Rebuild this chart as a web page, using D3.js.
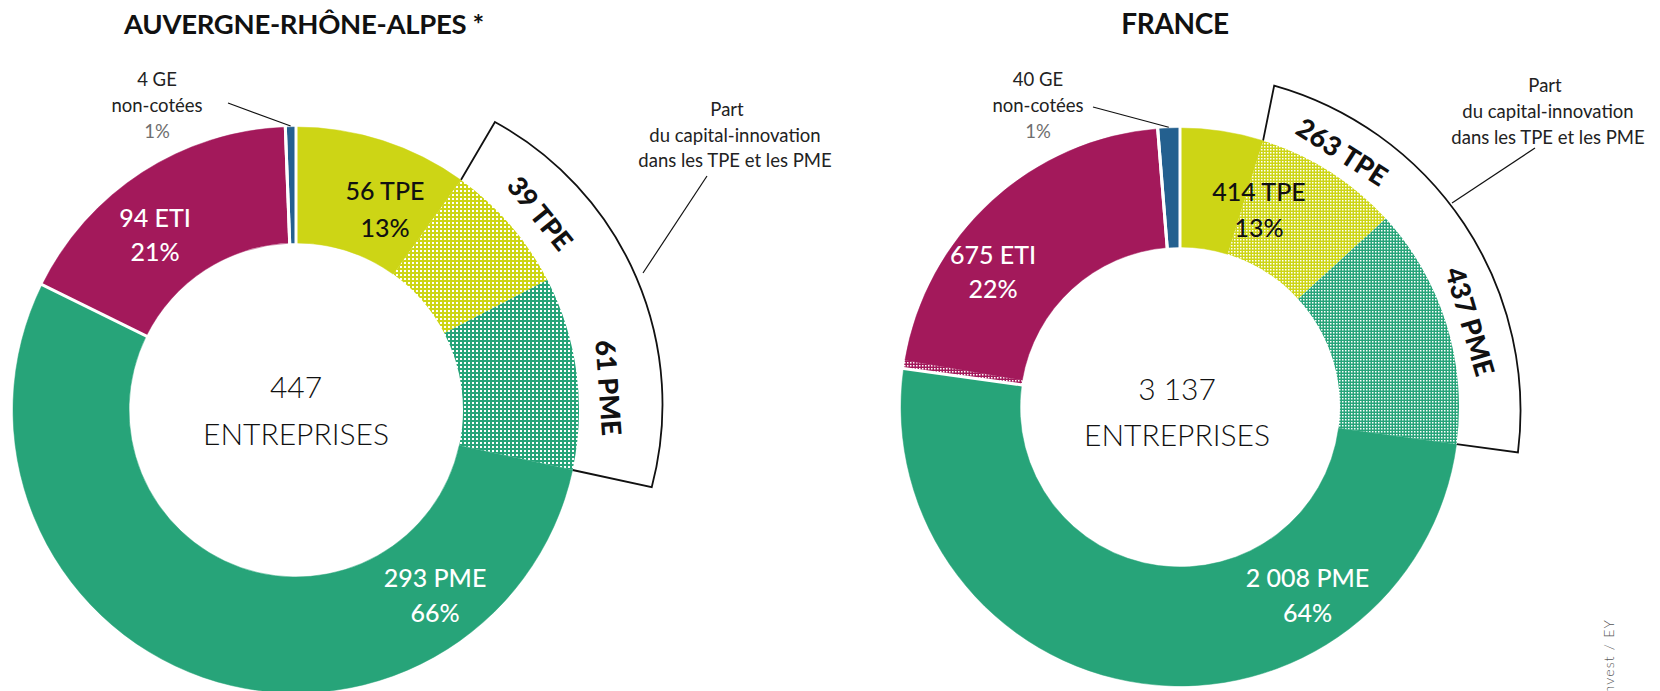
<!DOCTYPE html>
<html><head><meta charset="utf-8">
<script src="https://cdn.jsdelivr.net/npm/d3@7"></script>
<style>
html,body{margin:0;padding:0;background:#fff;}
svg{display:block;}
text{font-family:Lato,"Open Sans",sans-serif;}
</style></head><body>
<svg id="chart" width="1660" height="691"></svg>
<script>
// ---------- DATA ----------
// ring segments, clockwise from 12 o'clock ("-CI" = part financed by capital-innovation, dotted)
const segmentKeys   = ["TPE", "TPE-CI", "PME-CI", "PME", "ETI-CI", "ETI", "GE"];
const segmentGroup  = ["TPE", "TPE", "PME", "PME", "ETI", "ETI", "GE"];
const segmentDotted = [false, true, true, false, true, false, false];

const categories   = ["TPE", "PME", "ETI", "GE"];

// Auvergne-Rhône-Alpes
const araTitle  = "AUVERGNE-RHÔNE-ALPES *";
const araTotal  = 447;
const araCounts = [56, 293, 94, 4];            // TPE, PME, ETI, GE
const araShares = ["13%", "66%", "21%", "1%"];
const araCapitalInnovation = [39, 61];         // TPE, PME
// slice sizes as drawn in the reference, in % of the ring (the drawing does not follow the labelled counts)
const araArcShares = [9.9, 7.5, 11.0, 53.9, 0, 17.1, 0.6];

// France
const frTitle  = "FRANCE";
const frTotal  = 3137;
const frCounts = [414, 2008, 675, 40];         // TPE, PME, ETI, GE
const frShares = ["13%", "64%", "22%", "1%"];
const frCapitalInnovation = [263, 437];        // TPE, PME
const frEtiCapitalInnovation = 15;             // thin unlabelled dotted sliver of ETI (estimated)
const frArcValues = [
  frCounts[0] - frCapitalInnovation[0], frCapitalInnovation[0],
  frCapitalInnovation[1], frCounts[1] - frCapitalInnovation[1],
  frEtiCapitalInnovation, frCounts[2] - frEtiCapitalInnovation,
  frCounts[3]
];

const calloutTitle = ["Part", "du capital-innovation", "dans les TPE et les PME"];
const sourceText = "Source : France Invest / EY";

// ---------- STYLE ----------
const color = d3.scaleOrdinal().domain(categories).range(["#cdd515", "#27a479", "#a3195b", "#24608f"]);
const fmt = d3.formatLocale({decimal: ",", thousands: "\u00a0", grouping: [3], currency: ["", "€"]}).format(",d");

const layouts = [
  {id: "ara", title: araTitle, total: araTotal, counts: araCounts, shares: araShares, ci: araCapitalInnovation, arcs: araArcShares,
   cx: 296, cy: 410, R: 283, r: 167, RcStart: 350, RcEnd: 364, arcR: 322, ciR: 314, ciNudge: [2, 3.5],
   titleX: 304, titleSize: 27.5, dot: [4, 2],
   lab: {TPE: [89, -220, -183], PME: [139, 167, 202], ETI: [-141, -193, -159]},
   ge: [-139, -331, -305, -279], geLineStart: [228, 103],
   center: [0, -24, 23], part: {x: 735, xPart: 727, ys: [109, 134.5, 160], start: [707, 176], end: [643, 273]}},
  {id: "fr", title: frTitle, total: frTotal, counts: frCounts, shares: frShares, ci: frCapitalInnovation, arcs: frArcValues,
   cx: 1180, cy: 407, R: 279, r: 160, RcStart: 335, RcEnd: 341, arcR: 338, ciR: 303, ciNudge: [0, 1],
   titleX: 1175, titleSize: 28, dot: [3, 1.5],
   lab: {TPE: [79, -216, -180], PME: [127.5, 170, 205], ETI: [-187, -153, -119]},
   ge: [-142, -328, -302, -276], geLineStart: [1093, 107],
   center: [-3, -19.5, 27], part: {x: 1548, xPart: 1545, ys: [85, 111, 137], start: [1535, 148], end: [1452, 203]}}
];

// ---------- DRAW ----------
const svg = d3.select("#chart");
const defs = svg.append("defs");
layouts.forEach(L => {
  ["TPE", "PME", "ETI"].forEach(c => {
    const [w, d] = L.dot;
    const p = defs.append("pattern").attr("id", `dot-${L.id}-${c}`)
      .attr("patternUnits", "userSpaceOnUse").attr("width", w).attr("height", w);
    p.append("rect").attr("width", w).attr("height", w).attr("fill", color(c));
    p.append("rect").attr("x", 0).attr("y", 0).attr("width", d).attr("height", d).attr("fill", "#fff");
  });
});

const pie = d3.pie().sort(null).value(d => d);
const deg = Math.PI / 180;
const pt = (L, a, rad) => [L.cx + rad * Math.sin(a), L.cy - rad * Math.cos(a)];

layouts.forEach(L => {
  const g = svg.append("g");
  const slices = pie(L.arcs).map((s, i) => Object.assign(s, {key: segmentKeys[i], group: segmentGroup[i], dotted: segmentDotted[i]}));
  const arc = d3.arc().innerRadius(L.r).outerRadius(L.R);

  // title
  g.append("text").attr("x", L.titleX).attr("y", 23).attr("text-anchor", "middle").attr("dominant-baseline", "central")
    .attr("font-family", "'Open Sans',Lato,sans-serif").attr("font-weight", 700).attr("font-size", L.titleSize)
    .attr("letter-spacing", -0.3).attr("fill", "#111")
    .text(L.title);

  // callout band (capital-innovation part)
  const ciSlices = slices.filter(s => s.key === "TPE-CI" || s.key === "PME-CI");
  const a0 = ciSlices[0].startAngle, a1 = ciSlices[ciSlices.length - 1].endAngle;
  const p0 = pt(L, a0, L.R), p1 = pt(L, a0 - 1 * deg, L.RcStart), p2 = pt(L, a1, L.RcEnd), p3 = pt(L, a1, L.R);
  g.append("path")
    .attr("d", `M${p0}L${p1}A${L.arcR},${L.arcR} 0 0 1 ${p2}L${p3}`)
    .attr("fill", "#fff").attr("stroke", "#111").attr("stroke-width", 1.8).attr("stroke-linejoin", "miter");

  // ring
  g.append("g").attr("transform", `translate(${L.cx},${L.cy})`)
    .selectAll("path").data(slices).join("path")
    .attr("d", arc)
    .attr("fill", d => d.dotted ? `url(#dot-${L.id}-${d.group})` : color(d.group))
    .attr("stroke", d => d.dotted ? "none" : color(d.group)).attr("stroke-width", 0.5);

  // white separators around ETI and GE groups
  const sepAngles = [];
  ["ETI", "GE"].forEach(gr => {
    const ss = slices.filter(s => s.group === gr);
    sepAngles.push(ss[0].startAngle, ss[ss.length - 1].endAngle);
  });
  g.selectAll("line.sep").data(sepAngles).join("line").attr("class", "sep")
    .attr("x1", a => pt(L, a, L.r - 2)[0]).attr("y1", a => pt(L, a, L.r - 2)[1])
    .attr("x2", a => pt(L, a, L.R + 2)[0]).attr("y2", a => pt(L, a, L.R + 2)[1])
    .attr("stroke", "#fff").attr("stroke-width", 3);

  // callout labels
  ciSlices.forEach((s, i) => {
    const a = (s.startAngle + s.endAngle) / 2 + L.ciNudge[i] * deg;
    const [x, y] = pt(L, a, L.ciR);
    g.append("text").attr("transform", `translate(${x},${y}) rotate(${a / deg})`)
      .attr("text-anchor", "middle").attr("dominant-baseline", "central")
      .attr("font-weight", 900).attr("font-size", 27).attr("fill", "#111")
      .text(`${fmt(L.ci[i])} ${categories[i]}`);
  });

  // slice labels
  [["TPE", 0, "#111"], ["PME", 1, "#fff"], ["ETI", 2, "#fff"]].forEach(([c, i, fill]) => {
    const [dx, y1, y2] = L.lab[c];
    [[`${fmt(L.counts[i])} ${c}`, y1], [L.shares[i], y2]].forEach(([t, dy]) => {
      g.append("text").attr("x", L.cx + dx).attr("y", L.cy + dy)
        .attr("text-anchor", "middle").attr("dominant-baseline", "central")
        .attr("font-weight", 500).attr("font-size", 25).attr("fill", fill).text(t);
    });
  });

  // GE label + leader
  const [gdx, gy1, gy2, gy3] = L.ge;
  [[`${fmt(L.counts[3])} GE`, gy1, "#222", 400], ["non-cotées", gy2, "#222", 400], [L.shares[3], gy3, "#6e6e6e", 400]]
    .forEach(([t, dy, f, w]) => {
      g.append("text").attr("x", L.cx + gdx).attr("y", L.cy + dy).attr("text-anchor", "middle")
        .attr("dominant-baseline", "central").attr("font-size", 18.5).attr("font-weight", w).attr("fill", f).text(t);
    });
  const geS = slices.find(s => s.key === "GE");
  const geEnd = pt(L, (geS.startAngle + geS.endAngle) / 2, L.R + 1);
  g.append("line").attr("x1", L.geLineStart[0]).attr("y1", L.geLineStart[1])
    .attr("x2", geEnd[0]).attr("y2", geEnd[1]).attr("stroke", "#111").attr("stroke-width", 1.2);

  // centre label
  g.append("text").attr("x", L.cx + L.center[0]).attr("y", L.cy + L.center[1]).attr("text-anchor", "middle")
    .attr("dominant-baseline", "central").attr("font-weight", 300).attr("font-size", 30).attr("fill", "#111").text(fmt(L.total));
  g.append("text").attr("x", L.cx + L.center[0]).attr("y", L.cy + L.center[2]).attr("text-anchor", "middle")
    .attr("dominant-baseline", "central").attr("font-weight", 300).attr("font-size", 30).attr("fill", "#111").text("ENTREPRISES");

  // "Part du capital-innovation" note + leader
  calloutTitle.forEach((t, i) => {
    g.append("text").attr("x", i === 0 ? L.part.xPart : L.part.x).attr("y", L.part.ys[i]).attr("text-anchor", "middle")
      .attr("dominant-baseline", "central").attr("font-size", 18.5).attr("fill", "#222").text(t);
  });
  g.append("line").attr("x1", L.part.start[0]).attr("y1", L.part.start[1]).attr("x2", L.part.end[0]).attr("y2", L.part.end[1])
    .attr("stroke", "#111").attr("stroke-width", 1.2);
});

// source (cut by the frame, as in the reference)
svg.append("text").attr("transform", "translate(1614,619) rotate(-90)").attr("text-anchor", "end")
  .attr("font-size", 14).attr("font-weight", 300).attr("letter-spacing", 1.2).attr("fill", "#555").text(sourceText);
</script></body></html>
